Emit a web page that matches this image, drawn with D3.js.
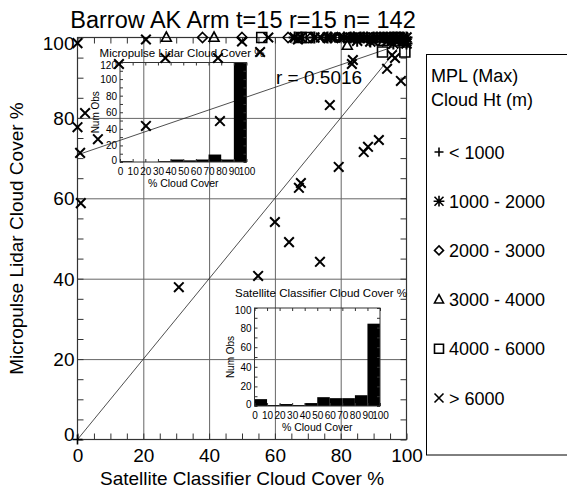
<!DOCTYPE html>
<html>
<head>
<meta charset="utf-8">
<script src="https://cdn.jsdelivr.net/npm/d3@7"></script>
<style>
  body { margin: 0; background: #fff; }
  svg { display: block; font-family: "Liberation Sans", Arial, Helvetica, sans-serif; }
  .grid line { stroke: #666; }
  .grid path { display: none; }
</style>
</head>
<body>
<svg id="chart" width="567" height="489"></svg>
<script>
// ---------------- data ----------------
var titleText = "Barrow AK Arm t=15 r=15 n= 142";
var corrText = "r = 0.5016";
var xTicks = [0, 20, 40, 60, 80, 100];
var yTicks = [0, 20, 40, 60, 80, 100];

// MPL cloud height groups: [satellite %, lidar %]
var ptsPlus = [[0, 0]];
var ptsStar = [[66, 100], [68, 100], [72, 100], [76, 100], [77, 100], [81, 100], [83, 100],
  [84, 100], [86, 100], [87, 100], [88, 100], [90, 100], [91, 100], [92, 100], [93, 100],
  [94, 100], [95, 100], [96, 100], [97, 100], [98, 100], [99, 100], [100, 100], [99, 99],
  [96, 98.5], [89, 99], [85, 99.2], [100, 98.5]];
var ptsDiamond = [[38, 100], [50, 100], [64, 100], [71, 100], [75, 100], [79, 100], [84, 100]];
var ptsTriangle = [[27, 100], [41.5, 100], [82, 98], [93, 99], [99, 99]];
var ptsSquare = [[56, 100], [68, 100], [70, 100], [92.7, 96.4], [99.5, 96.4], [97, 100]];
var ptsX = [[0, 98.6], [12.6, 93.4], [20.8, 99.5], [26.7, 94.9], [2.3, 81.2], [0, 77.7],
  [6.2, 74.7], [20.8, 78], [0.8, 71.3], [42.7, 94.9], [43.3, 79.2], [50, 99], [55.5, 96.4],
  [1, 58.8], [30.8, 37.9], [54.9, 40.7], [60, 54.1], [64.3, 49.1], [73.7, 44.2], [67.9, 63.8],
  [67.3, 62.6], [76.7, 83.2], [79.4, 67.8], [87, 71.5], [88.3, 72.8], [91.6, 74.5], [83.7, 94.4],
  [83.4, 93.4], [95.6, 95.6], [96.5, 94.9], [94.1, 92.2], [98.3, 89.2], [58, 100], [67, 99.5],
  [74, 100], [80, 100], [85, 100], [89, 100], [93, 100], [96, 100], [99, 100], [100, 99],
  [78, 100], [82, 100], [90, 99], [94, 99], [97, 99.5]];

// fit line (lidar = a + b * satellite)
var fitIntercept = 70.8;
var fitSlope = 0.28;

var legendTitle = ["MPL (Max)", "Cloud Ht (m)"];
var legendLabels = ["< 1000", "1000 - 2000", "2000 - 3000", "3000 - 4000", "4000 - 6000", "> 6000"];
var legendSymbols = ["plus", "star", "diamond", "triangle", "square", "x"];

// histograms, 10% bins
var binStarts = [0, 10, 20, 30, 40, 50, 60, 70, 80, 90];
var lidarCounts = [1, 0, 0, 1, 3, 2, 3, 9, 3, 120];
var satCounts = [7, 1, 2, 1, 3, 9, 8, 8, 11, 84];
var histXTicks = [0, 10, 20, 30, 40, 50, 60, 70, 80, 90, 100];
var lidarYTicks = [0, 20, 40, 60, 80, 100, 120];
var satYTicks = [0, 20, 40, 60, 80, 100];

// ---------------- layout ----------------
var svg = d3.select("#chart");
svg.append("rect").attr("width", 567).attr("height", 489).attr("fill", "#fff");

var L = 77.5, R = 406.5, T = 37.5, B = 439.5;
var x = d3.scaleLinear().domain([0, 100]).range([L, R]);
var y = d3.scaleLinear().domain([0, 100]).range([B, T]);

// symbol paths
function symPath(kind, s) {
  var p = d3.path();
  if (kind == "x" || kind == "star") {
    p.moveTo(-s, -s); p.lineTo(s, s); p.moveTo(-s, s); p.lineTo(s, -s);
  }
  if (kind == "plus" || kind == "star") {
    var q = kind == "star" ? s * 1.2 : s;
    p.moveTo(-q, 0); p.lineTo(q, 0); p.moveTo(0, -q); p.lineTo(0, q);
  }
  if (kind == "diamond") {
    p.moveTo(0, -s); p.lineTo(s, 0); p.lineTo(0, s); p.lineTo(-s, 0); p.closePath();
  }
  if (kind == "triangle") {
    p.moveTo(0, -s * 1.1); p.lineTo(s, s * 0.75); p.lineTo(-s, s * 0.75); p.closePath();
  }
  if (kind == "square") {
    p.rect(-s, -s, 2 * s, 2 * s);
  }
  return p.toString();
}

// grid lines
svg.append("g").attr("class", "grid")
  .attr("transform", "translate(0," + B + ")")
  .call(d3.axisBottom(x).tickValues([20, 40, 60, 80]).tickSize(-(B - T)).tickFormat(""));
svg.append("g").attr("class", "grid")
  .attr("transform", "translate(" + L + ",0)")
  .call(d3.axisLeft(y).tickValues([20, 40, 60, 80]).tickSize(-(R - L)).tickFormat(""));

// minor ticks on all four sides
var minor = d3.range(0, 101, 5);
function tickAxis(g) { g.select(".domain").remove(); g.selectAll("line").attr("stroke", "#333"); }
svg.append("g").attr("transform", "translate(0," + B + ")")
  .call(d3.axisBottom(x).tickValues(minor).tickSize(-6).tickFormat("")).call(tickAxis);
svg.append("g").attr("transform", "translate(0," + T + ")")
  .call(d3.axisTop(x).tickValues(minor).tickSize(-6).tickFormat("")).call(tickAxis);
svg.append("g").attr("transform", "translate(" + L + ",0)")
  .call(d3.axisLeft(y).tickValues(minor).tickSize(-6).tickFormat("")).call(tickAxis);
svg.append("g").attr("transform", "translate(" + R + ",0)")
  .call(d3.axisRight(y).tickValues(minor).tickSize(-6).tickFormat("")).call(tickAxis);

svg.append("rect").attr("x", L).attr("y", T).attr("width", R - L).attr("height", B - T)
  .attr("fill", "none").attr("stroke", "#333").attr("stroke-width", 1.2);

// tick labels
var xl = svg.append("g").attr("transform", "translate(0," + B + ")")
  .call(d3.axisBottom(x).tickValues(xTicks).tickSize(0).tickPadding(9).tickFormat(d3.format("d")));
xl.select(".domain").remove();
xl.selectAll("text").attr("font-size", 19).attr("fill", "#000").attr("font-family", null);

var yl = svg.append("g").attr("transform", "translate(" + L + ",0)")
  .call(d3.axisLeft(y).tickValues(yTicks).tickSize(0).tickPadding(3).tickFormat(d3.format("d")));
yl.select(".domain").remove();
yl.selectAll("text").attr("font-size", 19).attr("fill", "#000").attr("font-family", null)
  .attr("dy", function(d) { return d == 100 ? "0.62em" : d == 0 ? "0.05em" : "0.35em"; });

// axis titles
svg.append("text").attr("x", (L + R) / 2).attr("y", 485).attr("text-anchor", "middle")
  .attr("font-size", 19).text("Satellite Classifier Cloud Cover %");
svg.append("text").attr("transform", "translate(23," + (T + B) / 2 + ") rotate(-90)")
  .attr("text-anchor", "middle").attr("font-size", 19).text("Micropulse Lidar Cloud Cover %");
svg.append("text").attr("x", 243).attr("y", 28).attr("text-anchor", "middle")
  .attr("font-size", 23.5).text(titleText);

// 1:1 line and fit line
svg.append("line").attr("x1", x(0)).attr("y1", y(0)).attr("x2", x(100)).attr("y2", y(100))
  .attr("stroke", "#222").attr("stroke-width", 0.8);
svg.append("line").attr("x1", x(0)).attr("y1", y(fitIntercept))
  .attr("x2", x(100)).attr("y2", y(fitIntercept + fitSlope * 100))
  .attr("stroke", "#222").attr("stroke-width", 0.8);
svg.append("text").attr("x", 276).attr("y", 84).attr("font-size", 19).text(corrText);

// ---------------- insets ----------------
function inset(frame, counts, yMax, yTicks, title, titleX, titleY) {
  var g = svg.append("g");
  var hx = d3.scaleLinear().domain([0, 100]).range([frame.l, frame.r]);
  var hy = d3.scaleLinear().domain([0, yMax]).range([frame.b, frame.t]);

  g.selectAll("rect.bar").data(binStarts).join("rect").attr("class", "bar")
    .attr("x", function(d) { return hx(d); })
    .attr("width", function(d) { return hx(d + 10) - hx(d); })
    .attr("y", function(d, i) { return hy(counts[i]); })
    .attr("height", function(d, i) { return hy(0) - hy(counts[i]); })
    .attr("fill", "#000");

  var tk = d3.range(0, 101, 10);
  var ytk = d3.range(0, yMax + 1, 10);
  g.append("g").attr("transform", "translate(0," + frame.b + ")")
    .call(d3.axisBottom(hx).tickValues(tk).tickSize(-3).tickFormat("")).call(tickAxis);
  g.append("g").attr("transform", "translate(0," + frame.t + ")")
    .call(d3.axisTop(hx).tickValues(tk).tickSize(-3).tickFormat("")).call(tickAxis);
  g.append("g").attr("transform", "translate(" + frame.l + ",0)")
    .call(d3.axisLeft(hy).tickValues(ytk).tickSize(-3).tickFormat("")).call(tickAxis);
  g.append("g").attr("transform", "translate(" + frame.r + ",0)")
    .call(d3.axisRight(hy).tickValues(ytk).tickSize(-3).tickFormat("")).call(tickAxis);
  g.append("rect").attr("x", frame.l).attr("y", frame.t)
    .attr("width", frame.r - frame.l).attr("height", frame.b - frame.t)
    .attr("fill", "none").attr("stroke", "#333").attr("stroke-width", 1);

  var bx = g.append("g").attr("transform", "translate(0," + frame.b + ")")
    .call(d3.axisBottom(hx).tickValues(histXTicks).tickSize(0).tickPadding(6).tickFormat(d3.format("d")));
  bx.select(".domain").remove();
  bx.selectAll("text").attr("font-size", 10).attr("fill", "#000").attr("font-family", null);

  var ly = g.append("g").attr("transform", "translate(" + frame.l + ",0)")
    .call(d3.axisLeft(hy).tickValues(yTicks).tickSize(0).tickPadding(3).tickFormat(d3.format("d")));
  ly.select(".domain").remove();
  ly.selectAll("text").attr("font-size", 10).attr("fill", "#000").attr("font-family", null)
    .attr("dy", function(d) { return d == yMax ? "0.55em" : d == 0 ? "0.15em" : "0.35em"; });

  g.append("text").attr("x", (frame.l + frame.r) / 2).attr("y", frame.b + 25)
    .attr("text-anchor", "middle").attr("font-size", 10.5).text("% Cloud Cover");
  g.append("text")
    .attr("transform", "translate(" + (frame.l - 21) + "," + ((frame.t + frame.b) / 2) + ") rotate(-90)")
    .attr("text-anchor", "middle").attr("font-size", 10).text("Num Obs");
  g.append("text").attr("x", titleX).attr("y", titleY).attr("text-anchor", "middle")
    .attr("font-size", 11.5).text(title);
}

inset({l: 120, r: 246.5, t: 62.5, b: 162}, lidarCounts, 120, lidarYTicks,
  "Micropulse Lidar Cloud Cover %", 182, 57);
inset({l: 254.5, r: 380, t: 308, b: 406}, satCounts, 100, satYTicks,
  "Satellite Classifier Cloud Cover %", 321, 297);

// ---------------- scatter ----------------
var groups = [
  {kind: "plus", pts: ptsPlus},
  {kind: "star", pts: ptsStar},
  {kind: "diamond", pts: ptsDiamond},
  {kind: "triangle", pts: ptsTriangle},
  {kind: "square", pts: ptsSquare},
  {kind: "x", pts: ptsX}
];
groups.forEach(function(gr) {
  svg.append("g").selectAll("path").data(gr.pts).join("path")
    .attr("transform", function(d) { return "translate(" + x(d[0]) + "," + y(d[1]) + ")"; })
    .attr("d", symPath(gr.kind, gr.kind == "x" ? 4.8 : 5))
    .attr("fill", "none").attr("stroke", "#000")
    .attr("stroke-width", gr.kind == "x" || gr.kind == "star" ? 2 : 1.6);
});

// ---------------- legend ----------------
svg.append("rect").attr("x", 426.5).attr("y", 54.5).attr("width", 200).attr("height", 400.5)
  .attr("fill", "#fff").attr("stroke", "#000").attr("stroke-width", 1);
legendTitle.forEach(function(t, i) {
  svg.append("text").attr("x", 431).attr("y", 82 + i * 24).attr("font-size", 18).text(t);
});
var leg = svg.append("g").selectAll("g").data(legendLabels).join("g")
  .attr("transform", function(d, i) { return "translate(0," + (152 + i * 49.2) + ")"; });
leg.append("path").attr("transform", "translate(439,0)")
  .attr("d", function(d, i) { return symPath(legendSymbols[i], 4.5); })
  .attr("fill", "none").attr("stroke", "#000").attr("stroke-width", 1.6);
leg.append("text").attr("x", 449).attr("y", 6.5).attr("font-size", 18).text(function(d) { return d; });
</script>
</body>
</html>
